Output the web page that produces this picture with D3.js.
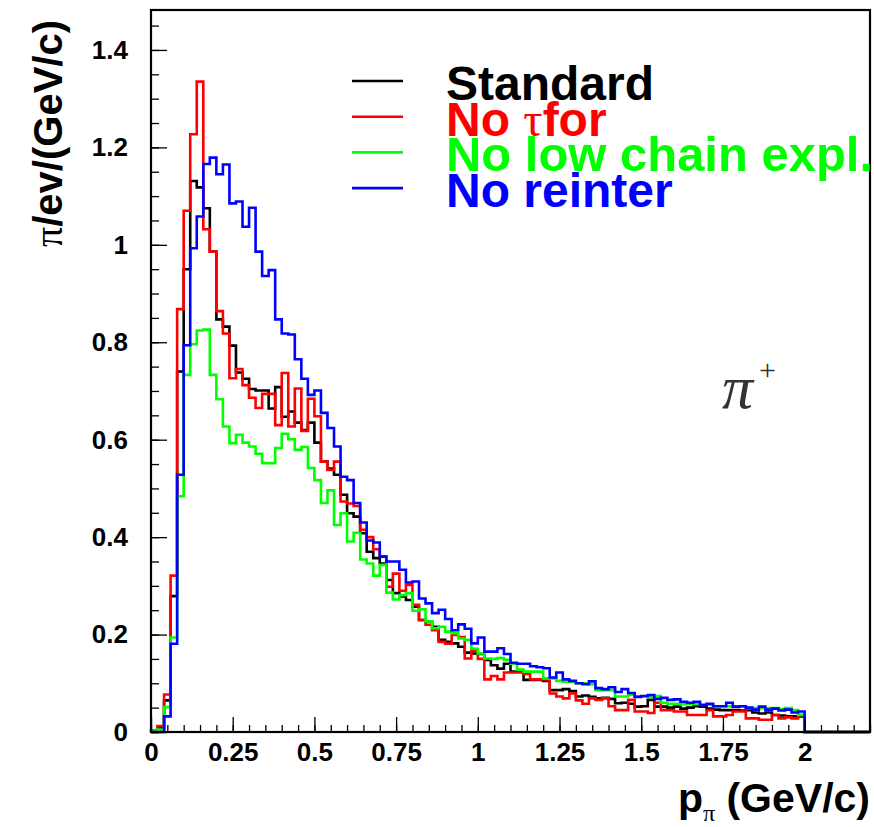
<!DOCTYPE html>
<html>
<head>
<meta charset="utf-8">
<script src="https://cdn.jsdelivr.net/npm/d3@7"></script>
<style>
  html, body { margin: 0; padding: 0; background: #fff; }
  svg { display: block; }
</style>
</head>
<body>
<div id="chart"></div>
<script>
// bin width of all four histograms (GeV/c), first bin starts at 0
const binWidth = 0.02;

// pi+/event per bin
const standard = [
  0, 0.008, 0.065, 0.279, 0.740, 0.950, 1.131, 1.118, 1.075, 0.986,
  0.847, 0.832, 0.793, 0.738, 0.725, 0.704, 0.701, 0.701, 0.664, 0.708,
  0.647, 0.658, 0.635, 0.620, 0.635, 0.594, 0.555, 0.541, 0.528, 0.487,
  0.449, 0.442, 0.408, 0.370, 0.357, 0.346, 0.312, 0.285, 0.278, 0.271,
  0.257, 0.230, 0.227, 0.216, 0.189, 0.185, 0.182, 0.175, 0.163, 0.161,
  0.160, 0.148, 0.137, 0.130, 0.140, 0.124, 0.124, 0.107, 0.107, 0.107,
  0.105, 0.086, 0.086, 0.088, 0.084, 0.073, 0.075, 0.072, 0.069, 0.070,
  0.068, 0.059, 0.060, 0.058, 0.052, 0.053, 0.066, 0.052, 0.052, 0.050,
  0.052, 0.048, 0.050, 0.053, 0.052, 0.048, 0.046, 0.045, 0.045, 0.045,
  0.044, 0.045, 0.040, 0.038, 0.040, 0.035, 0.034, 0.032, 0.032, 0.032
];
const noTauFor = [
  0.003, 0.012, 0.077, 0.321, 0.868, 1.070, 1.227, 1.335, 1.032, 0.986,
  0.864, 0.818, 0.726, 0.745, 0.712, 0.686, 0.665, 0.694, 0.694, 0.630,
  0.737, 0.627, 0.705, 0.618, 0.684, 0.648, 0.555, 0.538, 0.555, 0.473,
  0.469, 0.464, 0.415, 0.400, 0.375, 0.360, 0.298, 0.325, 0.290, 0.302,
  0.261, 0.230, 0.220, 0.209, 0.185, 0.181, 0.199, 0.195, 0.151, 0.167,
  0.150, 0.108, 0.115, 0.108, 0.122, 0.122, 0.122, 0.119, 0.108, 0.108,
  0.108, 0.079, 0.073, 0.069, 0.079, 0.065, 0.058, 0.069, 0.066, 0.069,
  0.053, 0.045, 0.045, 0.066, 0.042, 0.042, 0.039, 0.060, 0.045, 0.045,
  0.042, 0.042, 0.035, 0.035, 0.035, 0.045, 0.032, 0.032, 0.035, 0.042,
  0.042, 0.028, 0.028, 0.025, 0.025, 0.035, 0.028, 0.030, 0.028, 0.035
];
const noLowChain = [
  0.002, 0.005, 0.051, 0.194, 0.484, 0.733, 0.796, 0.824, 0.826, 0.733,
  0.683, 0.627, 0.593, 0.610, 0.594, 0.586, 0.571, 0.552, 0.552, 0.583,
  0.612, 0.601, 0.579, 0.585, 0.542, 0.517, 0.470, 0.496, 0.425, 0.449,
  0.391, 0.409, 0.354, 0.346, 0.321, 0.343, 0.286, 0.272, 0.281, 0.285,
  0.249, 0.252, 0.227, 0.213, 0.216, 0.206, 0.203, 0.192, 0.189, 0.171,
  0.161, 0.151, 0.150, 0.152, 0.148, 0.140, 0.128, 0.124, 0.124, 0.124,
  0.110, 0.110, 0.105, 0.103, 0.103, 0.100, 0.100, 0.098, 0.086, 0.086,
  0.086, 0.073, 0.073, 0.076, 0.073, 0.073, 0.072, 0.074, 0.060, 0.058,
  0.058, 0.057, 0.058, 0.057, 0.057, 0.056, 0.053, 0.053, 0.053, 0.052,
  0.053, 0.049, 0.049, 0.049, 0.049, 0.049, 0.047, 0.049, 0.045, 0.035
];
const noReinter = [
  0, 0, 0.032, 0.181, 0.528, 0.794, 0.993, 1.058, 1.166, 1.179,
  1.145, 1.165, 1.085, 1.089, 1.037, 1.076, 0.986, 0.936, 0.948, 0.847,
  0.818, 0.816, 0.765, 0.725, 0.692, 0.701, 0.655, 0.624, 0.586, 0.524,
  0.517, 0.470, 0.430, 0.393, 0.389, 0.360, 0.350, 0.350, 0.333, 0.307,
  0.309, 0.274, 0.264, 0.244, 0.251, 0.232, 0.209, 0.221, 0.212, 0.182,
  0.194, 0.165, 0.165, 0.172, 0.160, 0.142, 0.140, 0.140, 0.135, 0.133,
  0.131, 0.112, 0.122, 0.108, 0.105, 0.100, 0.098, 0.104, 0.090, 0.088,
  0.092, 0.082, 0.088, 0.080, 0.072, 0.074, 0.076, 0.068, 0.070, 0.066,
  0.067, 0.062, 0.060, 0.062, 0.055, 0.058, 0.053, 0.053, 0.060, 0.052,
  0.053, 0.050, 0.046, 0.052, 0.046, 0.048, 0.044, 0.046, 0.040, 0.042
];

const seriesNames = ['Standard', 'No τfor', 'No low chain expl.', 'No reinter'];
const seriesValues = [standard, noTauFor, noLowChain, noReinter];
const seriesColors = ['#000000', '#ff0000', '#00ff00', '#0000ff'];

const xMajorTicks = [0, 0.25, 0.5, 0.75, 1, 1.25, 1.5, 1.75, 2];
const yMajorTicks = [0, 0.2, 0.4, 0.6, 0.8, 1, 1.2, 1.4];
const xDomain = [0, 2.2];
const yDomain = [0, 1.482];

const width = 874, height = 827;
const frame = { left: 151, right: 870, top: 10, bottom: 732 };
const sans = '"Liberation Sans", Arial, Helvetica, sans-serif';
const serif = '"Liberation Serif", "DejaVu Serif", "Times New Roman", serif';

const x = d3.scaleLinear().domain(xDomain).range([frame.left, frame.right]);
const y = d3.scaleLinear().domain(yDomain).range([frame.bottom, frame.top]);

const svg = d3.select('#chart')
  .append('svg')
  .attr('xmlns', 'http://www.w3.org/2000/svg')
  .attr('width', width)
  .attr('height', height)
  .style('background', '#fff');

// histograms, drawn as ROOT does: outline of bins, flat at 0 beyond last bin
const line = d3.line().x(d => x(d[0])).y(d => y(d[1]));
function histPoints(values) {
  const pts = [[0, 0]];
  values.forEach((v, i) => {
    pts.push([i * binWidth, v]);
    pts.push([(i + 1) * binWidth, v]);
  });
  pts.push([values.length * binWidth, 0]);
  pts.push([xDomain[1], 0]);
  return pts;
}

const hists = svg.append('g').attr('class', 'hists');
seriesValues.forEach((vals, k) => {
  hists.append('path')
    .attr('d', line(histPoints(vals)))
    .attr('fill', 'none')
    .attr('stroke', seriesColors[k])
    .attr('stroke-width', 2.6)
    .attr('stroke-linejoin', 'miter');
});

// axes: ticks point into the frame
const yMinor = d3.range(0, 1.4801, 0.05);
const xMinor = d3.range(0, 2.2001, 0.05);

const yAxisMinor = svg.append('g')
  .attr('transform', `translate(${frame.left},0)`)
  .call(d3.axisLeft(y).tickValues(yMinor).tickSize(-8).tickFormat(''));
const yAxis = svg.append('g')
  .attr('transform', `translate(${frame.left},0)`)
  .call(d3.axisLeft(y).tickValues(yMajorTicks).tickSize(-16).tickPadding(23)
    .tickFormat(d3.format('~g')));

const xAxisMinor = svg.append('g')
  .attr('transform', `translate(0,${frame.bottom})`)
  .call(d3.axisBottom(x).tickValues(xMinor).tickSize(-7).tickFormat(''));
const xAxis = svg.append('g')
  .attr('transform', `translate(0,${frame.bottom})`)
  .call(d3.axisBottom(x).tickValues(xMajorTicks).tickSize(-15).tickPadding(9)
    .tickFormat(d3.format('~g')));

[yAxisMinor, yAxis, xAxisMinor, xAxis].forEach(g => {
  g.select('.domain').remove();
  g.selectAll('.tick line').attr('stroke', '#000').attr('stroke-width', 1.3);
});
[yAxis, xAxis].forEach(g => {
  g.selectAll('.tick text')
    .attr('fill', '#000')
    .style('font-family', sans)
    .style('font-weight', 'bold')
    .style('font-size', '26px');
});
xAxis.selectAll('.tick text').attr('dy', '0.78em');

// frame
svg.append('rect')
  .attr('x', frame.left)
  .attr('y', frame.top)
  .attr('width', frame.right - frame.left)
  .attr('height', frame.bottom - frame.top)
  .attr('fill', 'none')
  .attr('stroke', '#000')
  .attr('stroke-width', 2.2);

// axis titles
const yTitle = svg.append('text')
  .attr('transform', 'translate(62,20) rotate(-90)')
  .attr('text-anchor', 'end')
  .style('font-family', sans)
  .style('font-weight', 'bold')
  .style('font-size', '40px')
  .attr('fill', '#000');
yTitle.append('tspan').style('font-family', serif).style('font-weight', 'normal').text('π');
yTitle.append('tspan').text('/ev/(GeV/c)');

const xTitle = svg.append('text')
  .attr('x', 870)
  .attr('y', 812)
  .attr('text-anchor', 'end')
  .style('font-family', sans)
  .style('font-weight', 'bold')
  .style('font-size', '41px')
  .attr('fill', '#000');
xTitle.append('tspan').text('p');
xTitle.append('tspan').attr('dy', 9).style('font-family', serif)
  .style('font-weight', 'normal').style('font-size', '24px').text('π');
xTitle.append('tspan').attr('dy', -9).text(' (GeV/c)');

// legend
const legend = svg.append('g').attr('class', 'legend');
seriesNames.forEach((name, k) => {
  const base = 100 + k * 35.7;
  legend.append('line')
    .attr('x1', 352).attr('x2', 403)
    .attr('y1', base - 19).attr('y2', base - 19)
    .attr('stroke', seriesColors[k])
    .attr('stroke-width', 2.6);
  const t = legend.append('text')
    .attr('x', 446)
    .attr('y', base)
    .attr('fill', seriesColors[k])
    .style('font-family', sans)
    .style('font-weight', 'bold')
    .style('font-size', '48px');
  if (name.includes('τ')) {
    const parts = name.split('τ');
    t.append('tspan').text(parts[0]);
    t.append('tspan').style('font-family', serif).style('font-weight', 'normal').text('τ');
    t.append('tspan').text(parts[1]);
  } else {
    t.text(name);
  }
  if (name.length > 15) {
    t.attr('textLength', 427).attr('lengthAdjust', 'spacingAndGlyphs');
  }
});

// particle label
const pl = svg.append('text')
  .attr('x', 722)
  .attr('y', 408)
  .attr('fill', '#333')
  .style('font-family', serif)
  .style('font-style', 'italic')
  .style('font-size', '62px');
pl.append('tspan').text('π');
pl.append('tspan').attr('dy', -28).attr('dx', 6).style('font-size', '30px')
  .style('font-style', 'normal').text('+');
</script>
</body>
</html>
